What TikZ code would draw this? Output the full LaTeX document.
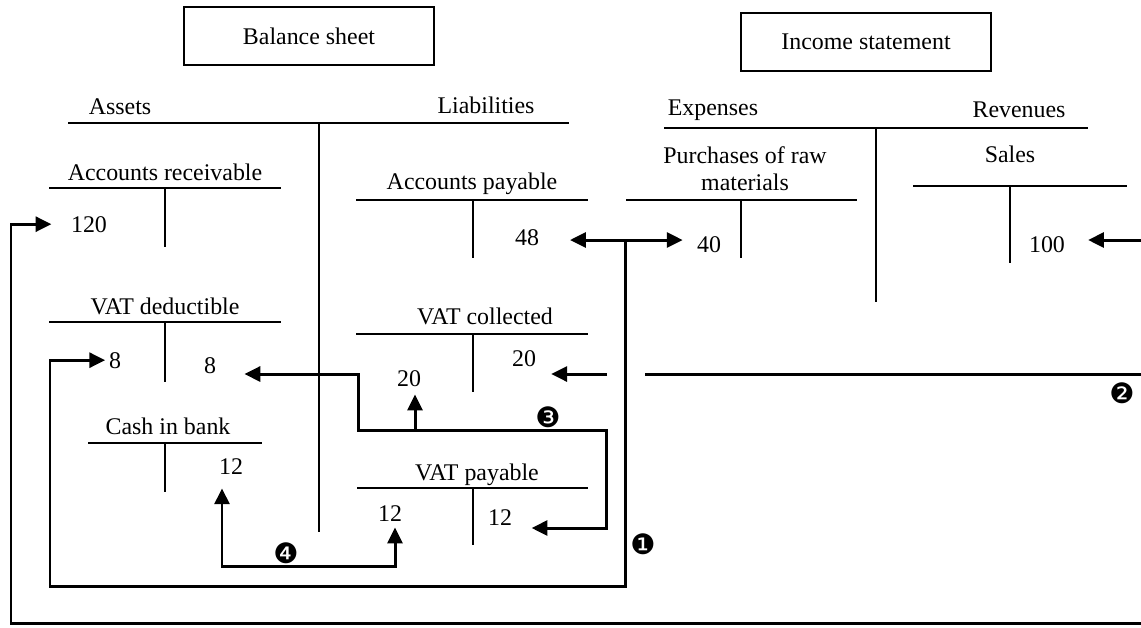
\documentclass[tikz,border=0pt]{standalone}
\usepackage{fontspec}
\setmainfont{Liberation Serif}
\newfontfamily\dingfont{DejaVu Sans}
\usetikzlibrary{arrows.meta}

\begin{document}
\begin{tikzpicture}[x=0.02cm,y=-0.02cm,
  every node/.style={font=\fontsize{13.6}{15.5}\selectfont},
  txt/.style={anchor=base,inner sep=0pt},
  titlebox/.style={draw,line width=0.9pt,minimum width=5cm,minimum height=1.16cm},
  tacct/.style={line width=1pt},
  flow/.style={line width=1.7pt},
  arr/.style={flow,-{Triangle[length=9pt,width=8.5pt]}},
  dblarr/.style={flow,{Triangle[length=9pt,width=8.5pt]}-{Triangle[length=9pt,width=8.5pt]}},
  stepnum/.style={font=\dingfont\fontsize{16}{16}\selectfont,inner sep=0pt}]
  \useasboundingbox (0,0) rectangle (1141,627);

  \node[titlebox] (bs) at (309,36) {Balance sheet};
  \node[titlebox] (is) at (866,42) {Income statement};

  \node[txt] (assets) at (120,114) {Assets};
  \node[txt] (liab) at (486,113) {Liabilities};
  \node[txt] (exp) at (713,115) {Expenses};
  \node[txt] (rev) at (1019,117) {Revenues};
  \draw[tacct] (68,123) -- (569,123) (319,123) -- (319,532);
  \draw[tacct] (664,128) -- (1088,128) (876,128) -- (876,302);

  \node[txt] (ar) at (165,180) {Accounts receivable};
  \node[txt] (ap) at (472,189) {Accounts payable};
  \node[anchor=north,inner sep=0pt,align=center] (pur) at (745,146) {Purchases of raw\\materials};
  \node[txt] (sales) at (1010,162) {Sales};
  \node[txt] (vatd) at (165,314) {VAT deductible};
  \node[txt] (vatc) at (485,324) {VAT collected};
  \node[txt] (cash) at (168,434) {Cash in bank};
  \node[txt] (vatp) at (477,480) {VAT payable};

  \draw[tacct] (49,188) -- (281,188) (165,188) -- (165,247);
  \draw[tacct] (356,200) -- (588,200) (473,200) -- (473,258);
  \draw[tacct] (626,200) -- (857,200) (741,200) -- (741,258);
  \draw[tacct] (913,186) -- (1127,186) (1010,186) -- (1010,263);
  \draw[tacct] (49,322) -- (281,322) (165,322) -- (165,382);
  \draw[tacct] (356,334) -- (588,334) (473,334) -- (473,392);
  \draw[tacct] (88,443) -- (262,443) (165,443) -- (165,492);
  \draw[tacct] (357,488) -- (588,488) (473,488) -- (473,545);

  \node[txt] (ar120) at (89,232) {120};
  \node[txt] (ap48) at (527,245) {48};
  \node[txt] (pu40) at (709,252) {40};
  \node[txt] (sa100) at (1047,252) {100};
  \node[txt] (vd8a) at (115,368) {8};
  \node[txt] (vd8b) at (210,373) {8};
  \node[txt] (vc20a) at (409,386) {20};
  \node[txt] (vc20b) at (524,366) {20};
  \node[txt] (cb12) at (231,474) {12};
  \node[txt] (vp12a) at (390,521) {12};
  \node[txt] (vp12b) at (500,525) {12};

  \node[stepnum] (s1) at (643,544) {❶};
  \node[stepnum] (s2) at (1122,393) {❷};
  \node[stepnum] (s3) at (548,417) {❸};
  \node[stepnum] (s4) at (286,553) {❹};

  \coordinate (j1) at (625,240);
  \coordinate (b1) at (50,586);
  \coordinate (e2a) at (1141,623);
  \coordinate (e2b) at (1141,374);
  \coordinate (e2c) at (1141,240);
  \coordinate (b2) at (11,623);
  \coordinate (jr) at (645,374);
  \coordinate (jl) at (607,374);
  \coordinate (b3t) at (358,374);
  \coordinate (b3a) at (358,430);
  \coordinate (b3b) at (606,430);
  \coordinate (b3c) at (415,430);
  \coordinate (b3d) at (606,528);
  \coordinate (b4a) at (222,566);
  \coordinate (b4b) at (395,566);

  \draw[dblarr,shorten <=17.5pt,shorten >=8pt] (ap48.east |- j1) -- (pu40.west |- j1);
  \draw[arr,shorten >=2pt] (j1) |- (b1) |- (vd8a.west);

  \draw[arr,shorten >=11pt] (e2a) -- (b2) |- (ar120.west);
  \draw[arr,shorten >=8.5pt] (e2b) -- (jr) (jl) -- (vc20b.east |- jl);
  \draw[arr,shorten >=13pt] (e2c) -- (sa100.east |- e2c);

  \draw[dblarr,shorten <=16pt,shorten >=11pt] (vd8b.east |- b3t) -- (b3t) -- (b3a) -- (b3b) -- (b3d) -- (vp12b.east |- b3d);
  \draw[arr,shorten >=4.5pt] (b3c) -- (b3c |- vc20a.south);

  \draw[dblarr,shorten <=8pt,shorten >=3.5pt] (cb12.south -| b4a) -- (b4a) -- (b4b) -- (vp12a.south -| b4b);
\end{tikzpicture}
\end{document}
